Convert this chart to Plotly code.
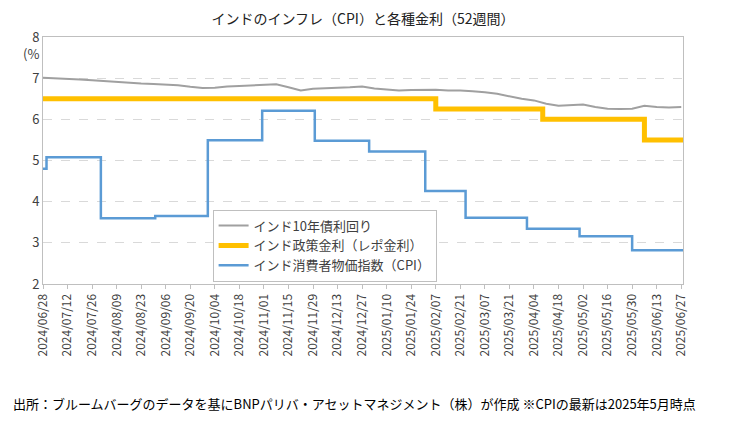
import plotly.graph_objects as go
import pandas as pd

bond_dates = pd.date_range("2024-06-28", "2025-06-27", freq="7D")
bond_vals = [7.01,7.00,6.98,6.97,6.95,6.93,6.90,6.88,6.87,6.86,6.85,6.83,6.79,6.76,6.77,6.80,6.81,6.82,6.84,6.85,6.78,6.70,6.74,6.76,6.77,6.78,6.80,6.75,6.73,6.70,6.71,6.72,6.72,6.70,6.70,6.68,6.66,6.62,6.56,6.50,6.46,6.38,6.33,6.35,6.36,6.30,6.26,6.25,6.26,6.33,6.30,6.29,6.30]

repo_dates = ["2024-06-28","2025-02-06","2025-02-07","2025-04-08","2025-04-09","2025-06-05","2025-06-06","2025-06-28"]
repo_vals = [6.5,6.5,6.25,6.25,6.0,6.0,5.5,5.5]

cpi_dates = ["2024-06-28","2024-06-30","2024-07-31","2024-08-31","2024-09-30","2024-10-31","2024-11-30","2024-12-31","2025-02-01","2025-02-24","2025-03-31","2025-04-30","2025-05-30","2025-06-28"]
cpi_vals = [4.8,5.08,3.6,3.65,5.49,6.21,5.48,5.22,4.26,3.61,3.34,3.16,2.82,2.82]

ticks = pd.date_range("2024-06-28", "2025-06-27", freq="14D")

fig = go.Figure()
fig.add_trace(go.Scatter(x=bond_dates, y=bond_vals, mode="lines", name="インド10年債利回り",
                         line=dict(color="#a0a0a0", width=2)))
fig.add_trace(go.Scatter(x=repo_dates, y=repo_vals, mode="lines", name="インド政策金利（レポ金利）",
                         line=dict(color="#ffc000", width=5, shape="hv")))
fig.add_trace(go.Scatter(x=cpi_dates, y=cpi_vals, mode="lines", name="インド消費者物価指数（CPI）",
                         line=dict(color="#5b9bd5", width=2.5, shape="hv")))

fig.update_layout(
    width=729, height=428, plot_bgcolor="white", paper_bgcolor="white",
    font=dict(family="Noto Sans CJK JP", size=12, color="#404040"),
    title=dict(text="インドのインフレ（CPI）と各種金利（52週間）", x=0.5, xref="paper", y=0.985, yanchor="top", xanchor="center", font=dict(size=14, color="#222")),
    margin=dict(l=35, r=54, t=29, b=152),
    legend=dict(x=0.265, y=0.01, xanchor="left", yanchor="bottom", bordercolor="#bfbfbf", borderwidth=1,
                bgcolor="white", font=dict(size=13), tracegroupgap=0),
    showlegend=True,
)
fig.update_xaxes(range=["2024-06-28", "2025-06-28"], tickvals=ticks, tickformat="%Y/%m/%d", tickangle=-90,
                 showgrid=False, showline=True, linecolor="#bfbfbf", mirror=True, ticks="outside",
                 tickcolor="#bfbfbf", ticklen=4, tickfont=dict(size=12), automargin=False)
fig.update_yaxes(range=[2, 8], dtick=1, showgrid=True, gridcolor="#d9d9d9", griddash="dash",
                 showline=True, linecolor="#bfbfbf", mirror=True, tickfont=dict(size=13), automargin=False)
fig.add_annotation(text="(%", x=0, xref="paper", xanchor="right", xshift=-2, y=7.6, showarrow=False, font=dict(size=13))
fig.add_annotation(text="出所：ブルームバーグのデータを基にBNPパリバ・アセットマネジメント（株）が作成 ※CPIの最新は2025年5月時点",
                   x=0.0, xref="paper", xanchor="left", xshift=-32, y=0, yref="paper", yanchor="top", yshift=-108,
                   showarrow=False, font=dict(size=13, color="#000"))
fig.write_html("out.html")
